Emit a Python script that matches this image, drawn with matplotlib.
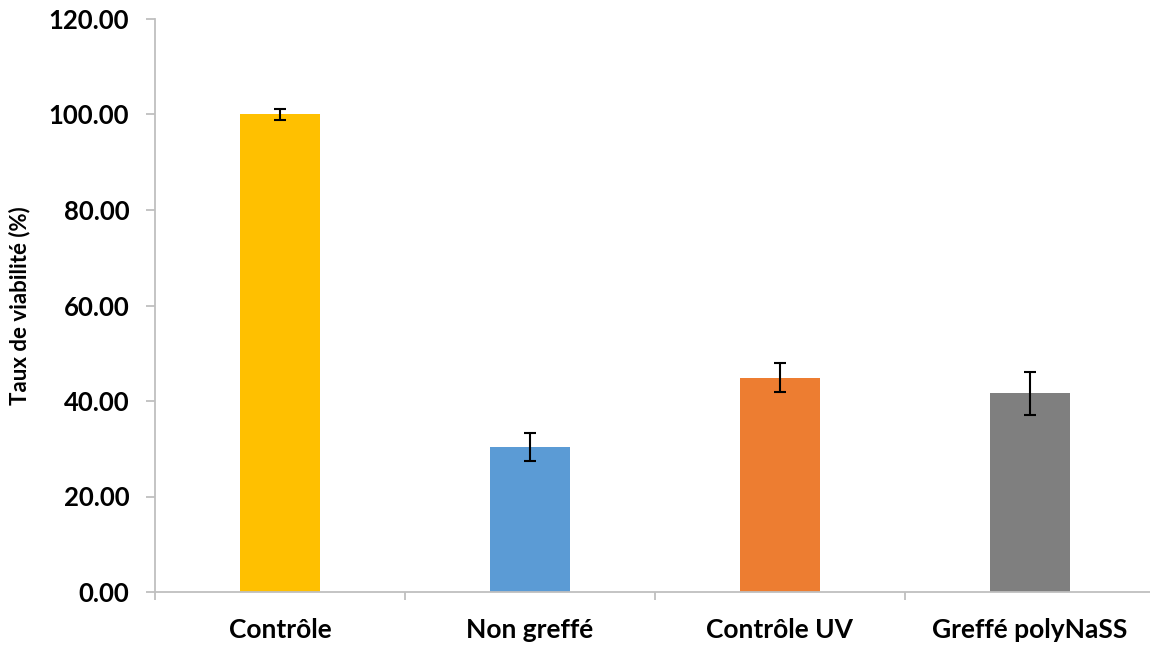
import matplotlib
matplotlib.use("Agg")
import matplotlib.pyplot as plt
import numpy as np

categories = ["Contrôle", "Non greffé", "Contrôle UV", "Greffé polyNaSS"]
values = [100.0, 30.4, 44.9, 41.6]
errors = [1.1, 2.9, 3.0, 4.5]
colors = ["#FFC000", "#5B9BD5", "#ED7D31", "#7F7F7F"]
yticks = [0, 20, 40, 60, 80, 100, 120]

plt.rcParams['font.family'] = ['Lato', 'DejaVu Sans']

fig = plt.figure(figsize=(11.5, 6.45), dpi=100)
ax = fig.add_axes([155/1150, 53/645, 1000/1150, 573/645])

x = np.arange(len(categories))
ax.bar(x, values, width=0.318, color=colors, zorder=2)
ax.errorbar(x, values, yerr=errors, fmt='none', ecolor='black',
            elinewidth=1.5, capsize=4.5, capthick=1.5, zorder=3)

ax.set_xlim(-0.5, 3.5)
ax.set_ylim(0, 120)
ax.set_yticks(yticks)
ax.set_yticklabels([f"{v:.2f}" for v in yticks], fontsize=18.5, fontweight='bold')
ax.set_xticks(x)
ax.set_xticklabels(categories, fontsize=19, fontweight='bold')
ax.set_xticks(np.arange(-0.5, 3.6, 1.0), minor=True)
ax.tick_params(axis='x', which='major', length=0, pad=19)
ax.tick_params(axis='x', which='minor', length=6, width=1.3, color='#BFBFBF')
ax.tick_params(axis='y', length=6.5, width=1.3, color='#BFBFBF', pad=12)

for s in ['top', 'right']:
    ax.spines[s].set_visible(False)
for s in ['left', 'bottom']:
    ax.spines[s].set_color('#BFBFBF')
    ax.spines[s].set_linewidth(1.3)

ax.set_ylabel("Taux de viabilité (%)", fontsize=16, fontweight='bold', labelpad=13)

fig.savefig("out.png", dpi=100, facecolor='white')
